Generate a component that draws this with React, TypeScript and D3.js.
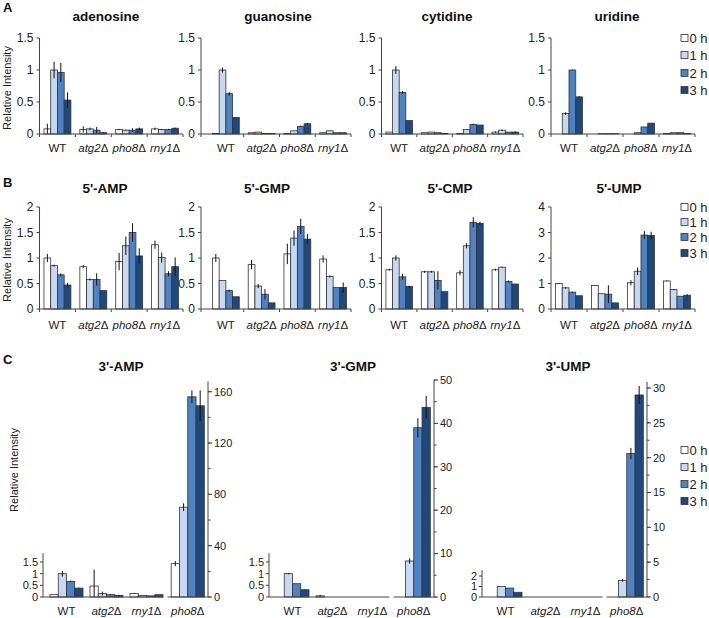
import * as d3 from "d3";

const groupsAB = ["WT", "atg2Δ", "pho8Δ", "rny1Δ"];
const groupsC = ["WT", "atg2Δ", "rny1Δ", "pho8Δ"];
const hours = ["0 h", "1 h", "2 h", "3 h"];
const hourColors = ["#ffffff", "#c7d9f0", "#4f82c3", "#1f497d"];

// each row = one strain, each column = one hour
const adenosine = [[0.08, 1.0, 0.96, 0.53], [0.07, 0.08, 0.06, 0.02], [0.07, 0.06, 0.06, 0.08], [0.08, 0.07, 0.07, 0.09]];
const adenosineErr = [[0.08, 0.13, 0.15, 0.12], [0.05, 0.02, 0.05, 0.01], [0.01, 0.01, 0.03, 0.02], [0.02, 0.01, 0.01, 0.01]];
const guanosine = [[0.01, 1.0, 0.63, 0.26], [0.02, 0.03, 0.01, 0.01], [0.01, 0.05, 0.12, 0.16], [0.02, 0.05, 0.02, 0.02]];
const guanosineErr = [[0, 0.04, 0.03, 0], [0, 0, 0, 0], [0, 0, 0.01, 0.01], [0, 0, 0, 0]];
const cytidine = [[0.03, 1.0, 0.65, 0.21], [0.02, 0.03, 0.02, 0.01], [0.01, 0.07, 0.15, 0.14], [0.03, 0.06, 0.03, 0.03]];
const cytidineErr = [[0, 0.06, 0.02, 0], [0, 0, 0, 0], [0, 0, 0.01, 0], [0.01, 0.01, 0, 0.01]];
const uridine = [[0, 0.32, 1.0, 0.58], [0, 0.005, 0.005, 0.005], [0, 0.02, 0.11, 0.17], [0.01, 0.02, 0.02, 0.01]];
const uridineErr = [[0, 0.02, 0.005, 0.01], [0, 0, 0, 0], [0, 0, 0, 0], [0, 0, 0, 0]];

const amp5 = [[1.0, 0.85, 0.67, 0.47], [0.83, 0.58, 0.58, 0.36], [0.93, 1.24, 1.5, 1.04], [1.26, 1.01, 0.69, 0.83]];
const amp5Err = [[0.08, 0.02, 0.03, 0.04], [0.03, 0.02, 0.12, 0], [0.17, 0.18, 0.18, 0.15], [0.08, 0.1, 0.05, 0.18]];
const gmp5 = [[1.0, 0.56, 0.36, 0.24], [0.87, 0.45, 0.29, 0.12], [1.08, 1.39, 1.62, 1.37], [0.98, 0.64, 0.42, 0.42]];
const gmp5Err = [[0.08, 0, 0.02, 0], [0.09, 0.04, 0.1, 0], [0.2, 0.15, 0.15, 0.1], [0.07, 0.02, 0, 0.1]];
const cmp5 = [[0.77, 1.0, 0.63, 0.44], [0.73, 0.73, 0.56, 0.34], [0.71, 1.24, 1.7, 1.68], [0.77, 0.82, 0.54, 0.49]];
const cmp5Err = [[0.02, 0.05, 0.06, 0.02], [0.02, 0.02, 0.18, 0], [0.05, 0.05, 0.1, 0.03], [0.02, 0.01, 0.02, 0]];
const ump5 = [[1.0, 0.83, 0.66, 0.52], [0.92, 0.6, 0.58, 0.24], [1.03, 1.48, 2.9, 2.88], [1.1, 0.76, 0.5, 0.54]];
const ump5Err = [[0.02, 0.03, 0.02, 0], [0.01, 0, 0.35, 0], [0.1, 0.15, 0.15, 0.15], [0.02, 0.02, 0, 0.04]];

// 3' panels: WT, atg2Δ, rny1Δ on the left axis; pho8Δ on the right axis
const amp3Left = [[0.1, 1.0, 0.67, 0.38], [0.47, 0.15, 0.1, 0.07], [0.15, 0.07, 0.05, 0.1]];
const amp3LeftErr = [[0, 0.12, 0.03, 0.02], [0.7, 0.08, 0.02, 0.02], [0.02, 0, 0, 0]];
const amp3Pho8 = [26, 70, 156, 149];
const amp3Pho8Err = [2, 3, 5, 12];
const gmp3Left = [[0, 1.0, 0.57, 0.31], [0.05, 0, 0, 0], [0, 0, 0, 0]];
const gmp3LeftErr = [[0, 0.03, 0, 0.02], [0.04, 0, 0, 0], [0, 0, 0, 0]];
const gmp3Pho8 = [0, 8.3, 39, 43.7];
const gmp3Pho8Err = [0, 0.6, 2.2, 2.6];
const ump3Left = [[0, 1.0, 0.85, 0.45], [0, 0, 0, 0], [0, 0, 0, 0]];
const ump3LeftErr = [[0, 0, 0, 0], [0, 0, 0, 0], [0, 0, 0, 0]];
const ump3Pho8 = [0, 2.4, 20.6, 29];
const ump3Pho8Err = [0, 0.2, 0.8, 1.3];

const ticksA = [0, 0.5, 1, 1.5];
const ticksB = [0, 0.5, 1, 1.5, 2];
const ticksB4 = [0, 1, 2, 3, 4];

const font = "'Liberation Sans', Arial, sans-serif";
const ink = "#222";

const colX = [
  { x0: 39.5, bx: 39.5, x1: 183 },
  { x0: 201, bx: 208, x1: 351 },
  { x0: 381.5, bx: 381.5, x1: 523 },
  { x0: 551, bx: 551, x1: 695 },
];

const rowA = { yBase: 134, yTop: 38, titleY: 21, labelY: 152 };
const rowB = { yBase: 309, yTop: 207, titleY: 193, labelY: 329 };

const panelsA = [
  { title: "adenosine", tx: 106, values: adenosine, errors: adenosineErr, ticks: ticksA },
  { title: "guanosine", tx: 278, values: guanosine, errors: guanosineErr, ticks: ticksA },
  { title: "cytidine", tx: 447, values: cytidine, errors: cytidineErr, ticks: ticksA },
  { title: "uridine", tx: 617, values: uridine, errors: uridineErr, ticks: ticksA },
];
const panelsB = [
  { title: "5'-AMP", tx: 105, values: amp5, errors: amp5Err, ticks: ticksB },
  { title: "5'-GMP", tx: 267, values: gmp5, errors: gmp5Err, ticks: ticksB },
  { title: "5'-CMP", tx: 450, values: cmp5, errors: cmp5Err, ticks: ticksB },
  { title: "5'-UMP", tx: 619, values: ump5, errors: ump5Err, ticks: ticksB4 },
];

const panelsC = [
  {
    title: "3'-AMP", tx: 121, x0: 43, left: amp3Left, leftErr: amp3LeftErr, right: amp3Pho8, rightErr: amp3Pho8Err,
    leftTicks: [0, 0.5, 1, 1.5], leftRef: 1.5, leftRefY: 562, leftTop: 1.88,
    rightTicks: [0, 40, 80, 120, 160], rightMinor: 20, rightRef: 160, rightRefY: 391.7, rightTop: 168,
  },
  {
    title: "3'-GMP", tx: 353, x0: 269, left: gmp3Left, leftErr: gmp3LeftErr, right: gmp3Pho8, rightErr: gmp3Pho8Err,
    leftTicks: [0, 0.5, 1, 1.5], leftRef: 1.5, leftRefY: 562, leftTop: 1.88,
    rightTicks: [0, 10, 20, 30, 40, 50], rightMinor: 5, rightRef: 50, rightRefY: 380, rightTop: 50,
  },
  {
    title: "3'-UMP", tx: 568, x0: 482, left: ump3Left, leftErr: ump3LeftErr, right: ump3Pho8, rightErr: ump3Pho8Err,
    leftTicks: [0, 1, 2], leftRef: 2, leftRefY: 576, leftTop: 2.57,
    rightTicks: [0, 5, 10, 15, 20, 25, 30], rightMinor: 2.5, rightRef: 30, rightRefY: 388, rightTop: 30.9,
  },
];
const rowC = { yBase: 597, titleY: 371, labelY: 615 };

function CatLabel({ x, y, name }: { x: number; y: number; name: string }) {
  if (name === "WT") {
    return <text x={x} y={y} textAnchor="middle" fontSize={11.5} fill={ink}>WT</text>;
  }
  return (
    <text x={x} y={y} textAnchor="middle" fontSize={11.5} fill={ink}>
      <tspan fontStyle="italic">{name.slice(0, -1)}</tspan>
      <tspan>{name.slice(-1)}</tspan>
    </text>
  );
}

function BarGroup({ gx, width, values, errors, y }: any) {
  const xh = d3.scaleBand().domain(hours).range([gx, gx + width]);
  return (
    <g>
      {hours.map((h, i) => {
        const v = values[i];
        const top = y(v);
        const e = errors[i];
        return (
          <g key={h}>
            <rect x={xh(h)} y={top} width={xh.bandwidth()} height={Math.max(0, y(0) - top)}
              fill={hourColors[i]} stroke="#333" strokeWidth={0.8} />
            {e > 0 && (
              <line x1={xh(h)! + xh.bandwidth() / 2} x2={xh(h)! + xh.bandwidth() / 2}
                y1={y(Math.max(0, v - e))} y2={y(v + e)} stroke="#111" strokeWidth={1} />
            )}
          </g>
        );
      })}
    </g>
  );
}

function PanelAB({ p, col, row }: any) {
  const yMax = p.ticks[p.ticks.length - 1];
  const y = d3.scaleLinear().domain([0, yMax]).range([row.yBase, row.yTop]);
  const x = d3.scaleBand().domain(groupsAB).range([col.bx, col.x1]).paddingInner(0.25).paddingOuter(0.125);
  const half = (x.step() * 0.25) / 2;
  const seps = [col.x0, ...groupsAB.slice(1).map((g) => x(g)! - half), col.x1];
  return (
    <g>
      <text x={p.tx} y={row.titleY} textAnchor="middle" fontWeight="bold" fontSize={13.5} fill="#111">{p.title}</text>
      {groupsAB.map((g, gi) => (
        <BarGroup key={g} gx={x(g)} width={x.bandwidth()} values={p.values[gi]} errors={p.errors[gi]} y={y} />
      ))}
      <line x1={col.x0} x2={col.x0} y1={y(0)} y2={y(yMax)} stroke="#444" />
      {p.ticks.map((t: number) => (
        <g key={t}>
          <line x1={col.x0 - 3} x2={col.x0} y1={y(t)} y2={y(t)} stroke="#444" />
          <text x={col.x0 - 6} y={y(t)} dy="0.35em" textAnchor="end" fontSize={12} fill={ink}>{String(t)}</text>
        </g>
      ))}
      <line x1={col.x0} x2={col.x1} y1={y(0)} y2={y(0)} stroke="#444" />
      {seps.map((s, i) => (
        <line key={i} x1={s} x2={s} y1={y(0)} y2={y(0) + 3} stroke="#444" />
      ))}
      {groupsAB.map((g) => (
        <CatLabel key={g} x={x(g)! + x.bandwidth() / 2} y={row.labelY} name={g} />
      ))}
    </g>
  );
}

function PanelC({ p }: any) {
  const yL = d3.scaleLinear().domain([0, p.leftRef]).range([rowC.yBase, p.leftRefY]);
  const yR = d3.scaleLinear().domain([0, p.rightRef]).range([rowC.yBase, p.rightRefY]);
  const leftEnd = p.x0 + 120.5;
  const rStart = p.x0 + 124.5;
  const rEnd = p.x0 + 165;
  const xL = d3.scaleBand().domain(groupsC.slice(0, 3)).range([p.x0 + 3.5, p.x0 + 123.5]).paddingInner(0.175).paddingOuter(0.0875);
  const xR = d3.scaleBand().domain(groupsC.slice(3)).range([rStart, rEnd]).paddingInner(0.1).paddingOuter(0.1);
  const minor = d3.range(0, p.rightTop + 0.001, p.rightMinor);
  return (
    <g>
      <text x={p.tx} y={rowC.titleY} textAnchor="middle" fontWeight="bold" fontSize={13.5} fill="#111">{p.title}</text>
      {groupsC.slice(0, 3).map((g, gi) => (
        <BarGroup key={g} gx={xL(g)} width={xL.bandwidth()} values={p.left[gi]} errors={p.leftErr[gi]} y={yL} />
      ))}
      <BarGroup gx={xR("pho8Δ")} width={xR.bandwidth()} values={p.right} errors={p.rightErr} y={yR} />
      {/* left axis */}
      <line x1={p.x0} x2={p.x0} y1={yL(0)} y2={yL(p.leftTop)} stroke="#444" />
      {p.leftTicks.map((t: number) => (
        <g key={t}>
          <line x1={p.x0 - 3} x2={p.x0} y1={yL(t)} y2={yL(t)} stroke="#444" />
          <text x={p.x0 - 5} y={yL(t)} dy="0.35em" textAnchor="end" fontSize={11} fill={ink}>{String(t)}</text>
        </g>
      ))}
      <line x1={p.x0} x2={leftEnd} y1={yL(0)} y2={yL(0)} stroke="#444" />
      <line x1={rStart} x2={rEnd} y1={yR(0)} y2={yR(0)} stroke="#444" />
      {/* right axis */}
      <line x1={rEnd} x2={rEnd} y1={yR(0)} y2={yR(p.rightTop)} stroke="#444" />
      {minor.map((t: number) => (
        <line key={t} x1={rEnd} x2={rEnd + 2.5} y1={yR(t)} y2={yR(t)} stroke="#444" />
      ))}
      {p.rightTicks.map((t: number) => (
        <g key={t}>
          <line x1={rEnd} x2={rEnd + 4} y1={yR(t)} y2={yR(t)} stroke="#444" />
          <text x={rEnd + 6} y={yR(t)} dy="0.35em" textAnchor="start" fontSize={11} fill={ink}>{String(t)}</text>
        </g>
      ))}
      {groupsC.slice(0, 3).map((g) => (
        <CatLabel key={g} x={xL(g)! + xL.bandwidth() / 2} y={rowC.labelY} name={g} />
      ))}
      <CatLabel x={xR("pho8Δ")! + xR.bandwidth() / 2} y={rowC.labelY} name="pho8Δ" />
    </g>
  );
}

function Legend({ x, ys }: { x: number; ys: number[] }) {
  return (
    <g>
      {hours.map((h, i) => (
        <g key={h}>
          <rect x={x} y={ys[i] - 3.5} width={7} height={7} fill={hourColors[i]} stroke="#333" strokeWidth={0.8} />
          <text x={x + 8.5} y={ys[i]} dy="0.35em" fontSize={13} fill={ink}>{h}</text>
        </g>
      ))}
    </g>
  );
}

function YTitle({ x, y }: { x: number; y: number }) {
  return (
    <text transform={`translate(${x},${y}) rotate(-90)`} textAnchor="middle" dy="0.35em" fontSize={11} fill={ink}>
      Relative Intensity
    </text>
  );
}

export default function App() {
  return (
    <svg width={709} height={618} viewBox="0 0 709 618"
      style={{ position: "absolute", left: 0, top: 0, background: "#fff" }} fontFamily={font}>
      <text x={3} y={12} fontWeight="bold" fontSize={13} fill="#111">A</text>
      <text x={3} y={187} fontWeight="bold" fontSize={13} fill="#111">B</text>
      <text x={3} y={364} fontWeight="bold" fontSize={13} fill="#111">C</text>

      <YTitle x={7} y={88} />
      <YTitle x={7} y={260} />
      <YTitle x={14} y={470} />

      {panelsA.map((p, i) => <PanelAB key={p.title} p={p} col={colX[i]} row={rowA} />)}
      {panelsB.map((p, i) => <PanelAB key={p.title} p={p} col={colX[i]} row={rowB} />)}
      {panelsC.map((p) => <PanelC key={p.title} p={p} />)}

      <Legend x={681} ys={[38, 55, 73, 90]} />
      <Legend x={681} ys={[207, 222, 237, 253]} />
      <Legend x={681} ys={[450, 467, 484, 501]} />
    </svg>
  );
}
